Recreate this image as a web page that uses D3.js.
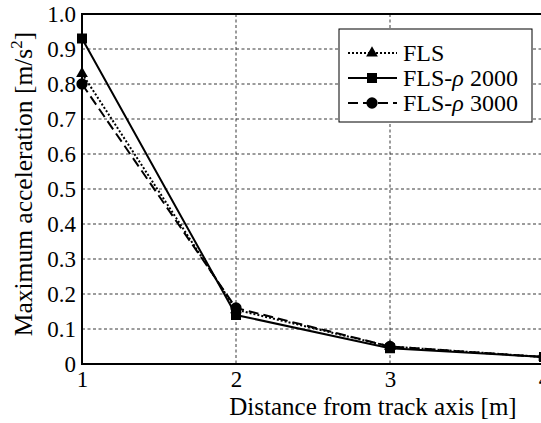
<!DOCTYPE html>
<html>
<head>
<meta charset="utf-8">
<script src="https://cdn.jsdelivr.net/npm/d3@7"></script>
<style>
  body { margin: 0; background: #fff; }
  svg text { font-family: 'Liberation Serif', 'DejaVu Serif', serif; fill: #000; }
</style>
</head>
<body>
<script>
// data
var distances = [1, 2, 3, 4];
var fls = [0.83, 0.155, 0.05, 0.02];
var flsRho2000 = [0.93, 0.14, 0.045, 0.02];
var flsRho3000 = [0.80, 0.16, 0.05, 0.02];
var yTicks = [0, 0.1, 0.2, 0.3, 0.4, 0.5, 0.6, 0.7, 0.8, 0.9, 1.0];
var xTicks = [1, 2, 3, 4];

var width = 541, height = 423,
	plotLeft = 82, plotRight = 544, plotTop = 14, plotBottom = 364;

var svg = d3.select('body').append('svg')
	.attr('width', width)
	.attr('height', height);

var x = d3.scaleLinear().domain([1, 4]).range([plotLeft, plotRight]),
	y = d3.scaleLinear().domain([0, 1]).range([plotBottom, plotTop]);

// grid lines
svg.append('g').selectAll('line')
	.data(yTicks.filter(function(d) { return d > 0 && d < 1; }))
	.enter().append('line')
	.attr('x1', plotLeft).attr('x2', plotRight)
	.attr('y1', function(d) { return y(d); })
	.attr('y2', function(d) { return y(d); })
	.attr('stroke', '#222')
	.attr('stroke-width', 0.9)
	.attr('stroke-dasharray', '3,2.5');

svg.append('g').selectAll('line')
	.data([2, 3])
	.enter().append('line')
	.attr('y1', plotTop).attr('y2', plotBottom)
	.attr('x1', function(d) { return x(d); })
	.attr('x2', function(d) { return x(d); })
	.attr('stroke', '#222')
	.attr('stroke-width', 0.9)
	.attr('stroke-dasharray', '3,2.5');

// axes
var yAxis = d3.axisLeft(y).tickValues(yTicks).tickSize(0).tickPadding(6)
	.tickFormat(function(d) { return d === 0 ? '0' : d3.format('.1f')(d); });
var gy = svg.append('g').attr('transform', 'translate(' + plotLeft + ',0)').call(yAxis);
gy.select('.domain').remove();
gy.selectAll('text')
	.attr('font-size', 23)
	.attr('dy', '0.32em');

var xAxis = d3.axisBottom(x).tickValues(xTicks).tickSize(0).tickPadding(0).tickFormat(d3.format('d'));
var gx = svg.append('g').attr('transform', 'translate(0,' + plotBottom + ')').call(xAxis);
gx.select('.domain').remove();
gx.selectAll('text')
	.attr('font-size', 23)
	.attr('y', 23)
	.attr('dy', 0);

// frame
svg.append('rect')
	.attr('x', plotLeft).attr('y', plotTop)
	.attr('width', plotRight - plotLeft).attr('height', plotBottom - plotTop)
	.attr('fill', 'none')
	.attr('stroke', '#000')
	.attr('stroke-width', 2);

// series
var series = [
	{ name: 'FLS', values: fls, dash: '2,2', marker: d3.symbolTriangle, size: 60 },
	{ name: 'FLS-ρ 2000', values: flsRho2000, dash: null, marker: d3.symbolSquare, size: 100 },
	{ name: 'FLS-ρ 3000', values: flsRho3000, dash: '10,5', marker: d3.symbolCircle, size: 100 }
];

var line = d3.line()
	.x(function(d, i) { return x(distances[i]); })
	.y(function(d) { return y(d); });

series.forEach(function(s) {
	svg.append('path')
		.attr('d', line(s.values))
		.attr('fill', 'none')
		.attr('stroke', '#000')
		.attr('stroke-width', 2)
		.attr('stroke-dasharray', s.dash);
	svg.append('g').selectAll('path')
		.data(s.values)
		.enter().append('path')
		.attr('d', d3.symbol().type(s.marker).size(s.size))
		.attr('transform', function(d, i) { return 'translate(' + x(distances[i]) + ',' + y(d) + ')'; })
		.attr('fill', '#000');
});

// legend
var legend = svg.append('g');
legend.append('rect')
	.attr('x', 339).attr('y', 29)
	.attr('width', 193).attr('height', 93)
	.attr('fill', '#fff')
	.attr('stroke', '#000')
	.attr('stroke-width', 1);

series.forEach(function(s, i) {
	var ly = 53 + i * 25;
	legend.append('line')
		.attr('x1', 348).attr('x2', 397)
		.attr('y1', ly).attr('y2', ly)
		.attr('stroke', '#000')
		.attr('stroke-width', 2)
		.attr('stroke-dasharray', s.dash);
	legend.append('path')
		.attr('d', d3.symbol().type(s.marker).size(s.size))
		.attr('transform', 'translate(372,' + ly + ')')
		.attr('fill', '#000');
	var t = legend.append('text')
		.attr('x', 403).attr('y', ly)
		.attr('dy', '0.34em')
		.attr('font-size', 24);
	if (i === 0) {
		t.text('FLS');
	} else {
		t.append('tspan').text('FLS-');
		t.append('tspan').attr('font-style', 'italic').text('ρ');
		t.append('tspan').text(i === 1 ? ' 2000' : ' 3000');
	}
});

// axis titles
svg.append('text')
	.attr('x', 373).attr('y', 415)
	.attr('text-anchor', 'middle')
	.attr('font-size', 25)
	.text('Distance from track axis [m]');

var yl = svg.append('text')
	.attr('transform', 'translate(32,184) rotate(-90)')
	.attr('text-anchor', 'middle')
	.attr('font-size', 25.5);
yl.append('tspan').text('Maximum acceleration [m/s');
yl.append('tspan').attr('font-size', 17).attr('dy', -10).text('2');
yl.append('tspan').attr('dy', 10).text(']');
</script>
</body>
</html>
